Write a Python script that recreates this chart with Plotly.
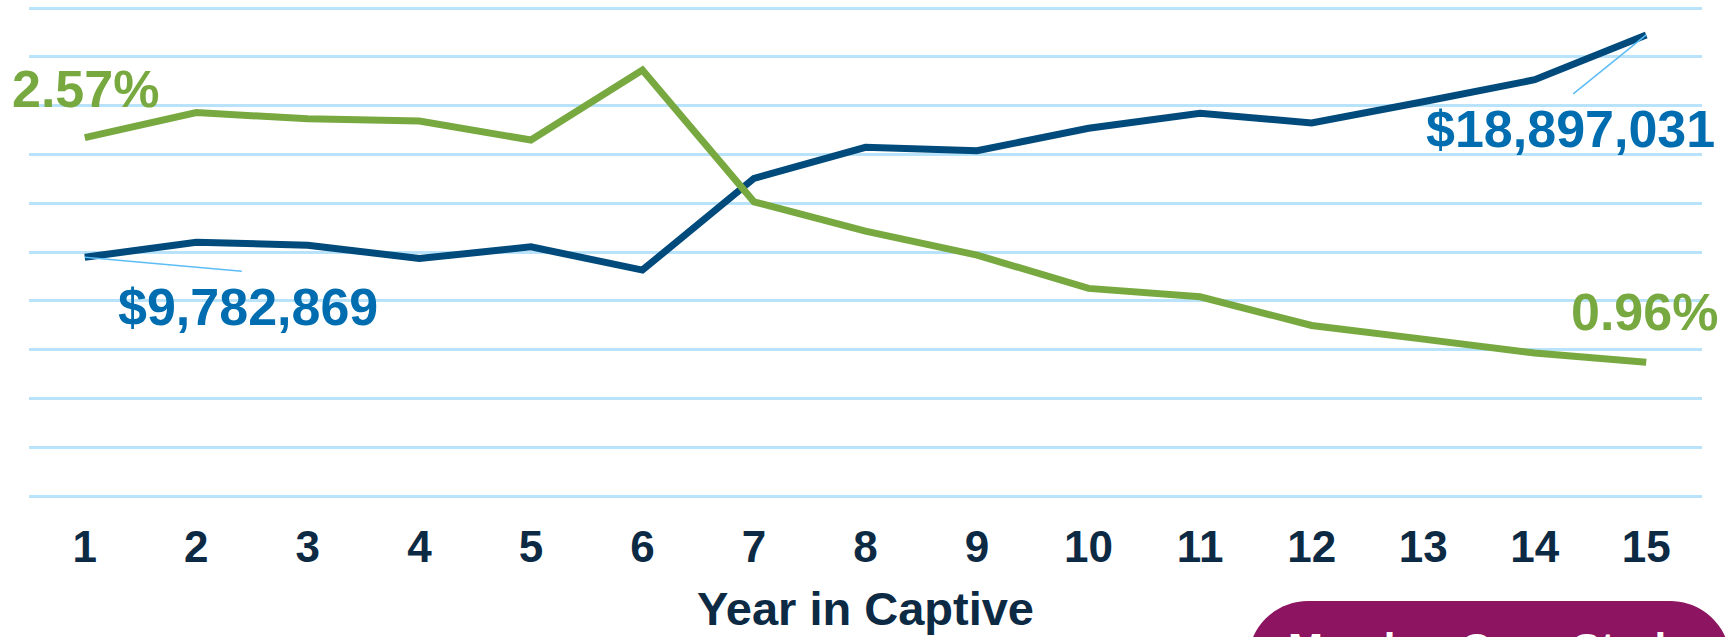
import plotly.graph_objects as go

# ---- data ----
years = list(range(1, 16))
assets = [9782869, 10400000, 10280000, 9730000, 10210000, 9260000, 13020000, 14290000,
          14150000, 15070000, 15690000, 15290000, 16160000, 17060000, 18897031]
ratio = [2.57, 2.75, 2.705, 2.69, 2.553, 3.055, 2.11, 1.90, 1.728, 1.489, 1.429, 1.223,
         1.125, 1.025, 0.96]
x_title = "Year in Captive"
label_first_ratio = "2.57%"
label_last_ratio = "0.96%"
label_first_assets = "$9,782,869"
label_last_assets = "$18,897,031"
button_text = "Member Case Study"

W, H = 1732, 637
PADPX = 5                                  # extra pixels so edge gridlines are kept
L, R, T, B = 29.25, 1701.75, 8 - PADPX, 496 + PADPX
PAD_A = PADPX * 20000000 / 488
PAD_R = PADPX * 3.5 / 488

BLUE = "#004a7c"
GREEN = "#78a940"
LABEL_BLUE = "#006db0"
NAVY = "#0d2a44"
GRID = "#b9e3fa"
LEADER = "#5cbdf5"
PURPLE = "#8d1460"
FONT = "Liberation Sans, Arial, sans-serif"


def px2x(px):
    return (px - L) / (R - L)


def py2y(py):
    return (B - py) / (B - T)


fig = go.Figure()
fig.add_trace(go.Scatter(x=years, y=assets, mode="lines", yaxis="y",
                         line=dict(color=BLUE, width=7), showlegend=False, hoverinfo="skip"))
fig.add_trace(go.Scatter(x=years, y=ratio, mode="lines", yaxis="y2",
                         line=dict(color=GREEN, width=7), showlegend=False, hoverinfo="skip"))

annotations = [
    dict(x=years[0], y=ratio[0], xref="x", yref="y2", text=label_first_ratio, showarrow=False,
         xshift=1, yshift=49, font=dict(family=FONT, size=52, color=GREEN, weight="bold")),
    dict(x=years[-1], y=ratio[-1], xref="x", yref="y2", text=label_last_ratio, showarrow=False,
         xshift=-2, yshift=50, font=dict(family=FONT, size=52, color=GREEN, weight="bold")),
    dict(x=years[0], y=assets[0], xref="x", yref="y", text=label_first_assets, showarrow=False,
         xshift=163, yshift=-50, font=dict(family=FONT, size=52, color=LABEL_BLUE, weight="bold")),
    dict(x=years[-1], y=assets[-1], xref="x", yref="y", text=label_last_assets, showarrow=False,
         xshift=-76, yshift=-94, font=dict(family=FONT, size=52, color=LABEL_BLUE, weight="bold")),
    dict(x=px2x(1489), y=py2y(648), xref="paper", yref="paper", text=button_text, showarrow=False,
         xanchor="center", yanchor="middle",
         font=dict(family=FONT, size=42, color="white", weight="bold")),
]

shapes = [
    dict(type="line", xref="x", yref="y", xsizemode="pixel", ysizemode="pixel",
         xanchor=years[0], yanchor=assets[0], x0=0, y0=0, x1=157, y1=-14,
         line=dict(color=LEADER, width=1.5)),
    dict(type="line", xref="x", yref="y", xsizemode="pixel", ysizemode="pixel",
         xanchor=years[-1], yanchor=assets[-1], x0=0, y0=0, x1=-73, y1=-59,
         line=dict(color=LEADER, width=1.5)),
]

# rounded button (paper coords)
bl, br, bt, bb, r = 1248, 1730, 601, 720, 60
k = 0.5523 * r
path = (f"M {px2x(bl)},{py2y(bb)} L {px2x(bl)},{py2y(bt + r)} "
        f"C {px2x(bl)},{py2y(bt + r - k)} {px2x(bl + r - k)},{py2y(bt)} {px2x(bl + r)},{py2y(bt)} "
        f"L {px2x(br - r)},{py2y(bt)} "
        f"C {px2x(br - r + k)},{py2y(bt)} {px2x(br)},{py2y(bt + r - k)} {px2x(br)},{py2y(bt + r)} "
        f"L {px2x(br)},{py2y(bb)} Z")
shapes.append(dict(type="path", xref="paper", yref="paper", path=path,
                   fillcolor=PURPLE, line=dict(width=0), layer="below"))

fig.update_layout(
    width=W, height=H,
    margin=dict(l=L, r=W - R, t=T, b=H - B, pad=0, autoexpand=False),
    paper_bgcolor="white", plot_bgcolor="white",
    annotations=annotations, shapes=shapes,
    xaxis=dict(range=[0.5, 15.5], tickmode="array", tickvals=years,
               ticktext=[str(v) for v in years], showgrid=False, zeroline=False,
               showline=False, ticks="", ticklabelstandoff=16,
               tickfont=dict(family=FONT, size=44, color=NAVY, weight="bold"),
               title=dict(text=x_title, standoff=22,
                          font=dict(family=FONT, size=47, color=NAVY, weight="bold")),
               automargin=False),
    yaxis=dict(range=[-PAD_A, 20000000 + PAD_A], tick0=0, dtick=2000000, showgrid=True,
               gridcolor=GRID, gridwidth=2.5,
               zeroline=False, showline=False, showticklabels=False, ticks="", automargin=False),
    yaxis2=dict(range=[-PAD_R, 3.5 + PAD_R], overlaying="y", side="right", showgrid=False,
                zeroline=False, showline=False, showticklabels=False, ticks="", automargin=False),
)

fig.write_html("out.html")
